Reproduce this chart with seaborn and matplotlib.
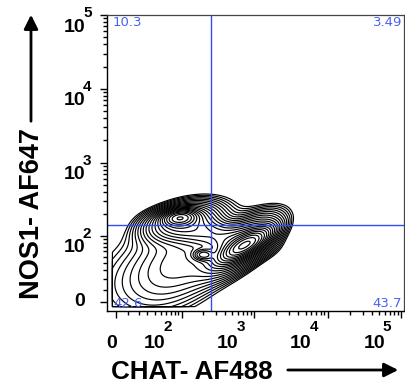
import numpy as np
import matplotlib
matplotlib.use("Agg")
import matplotlib.pyplot as plt
from matplotlib.patches import FancyArrowPatch
import seaborn as sns

# biexponential-like display (asinh), same width on both axes
width = 25.9

# tick values / labels
decades = [2, 3, 4, 5]
minor_values = [m * 10 ** k for k in range(1, 5) for m in range(1, 10) if not (m == 1 and k > 1)]

# gates (fluorescence units)
x_gate = 253
y_gate = 142

# quadrant frequencies (%)
q_upper_left = "10.3"
q_upper_right = "3.49"
q_lower_left = "42.6"
q_lower_right = "43.7"

# populations, in display units (decades)
pop_x = [0.87, 0.88, 1.76, 1.72, 1.19, 1.28, 0.95, 0.30]
pop_y = [1.14, 1.08, 0.77, 0.78, 0.64, 0.92, 0.60, 0.30]
pop_sx = [0.13, 0.28, 0.20, 0.32, 0.08, 0.38, 0.50, 0.55]
pop_sy = [0.06, 0.13, 0.07, 0.14, 0.045, 0.12, 0.30, 0.40]
pop_angle = [5, 15, 30, 35, 0, -10, 35, 15]
pop_weight = [1.0, 0.35, 1.3, 0.45, 0.35, 0.25, 0.12, 0.03]

# lowest on-scale events (display units)
x_floor = -0.055
y_floor = -0.068


def to_disp(v):
    return np.arcsinh(np.asarray(v, dtype=float) / width) / np.log(10)


def density(gx, gy):
    z = np.zeros_like(gx)
    for cx, cy, sx, sy, ang, w in zip(pop_x, pop_y, pop_sx, pop_sy, pop_angle, pop_weight):
        t = np.deg2rad(ang)
        dx = gx - cx
        dy = gy - cy
        a = (dx * np.cos(t) + dy * np.sin(t)) / sx
        b = (-dx * np.sin(t) + dy * np.cos(t)) / sy
        z += w * np.exp(-0.5 * (a ** 2 + b ** 2))
    z[(gx < x_floor) | (gy < y_floor)] = 0
    return z


sns.set_style("ticks")
plt.rcParams["mathtext.fontset"] = "custom"
plt.rcParams["mathtext.bf"] = "Liberation Sans:bold"
plt.rcParams["font.family"] = ["Liberation Sans", "DejaVu Sans"]
for k in ["text.color", "axes.labelcolor", "xtick.color", "ytick.color", "axes.edgecolor"]:
    plt.rcParams[k] = "black"

fig = plt.figure(figsize=(4.06, 3.87), dpi=100)
ax = fig.add_axes([107 / 406, 1 - 311 / 387, 297 / 406, 296 / 387])

xlim = (-0.123, 3.93)
ylim = (-0.122, 3.888)
gx, gy = np.meshgrid(np.linspace(*xlim, 600), np.linspace(*ylim, 600))
z = density(gx, gy)
levels = z.max() * np.geomspace(0.01, 0.92, 21)
ax.contour(gx, gy, z, levels=levels, colors="black", linewidths=0.85)

gate_color = "#2f4ff0"
ax.axvline(to_disp(x_gate), color=gate_color, lw=1)
ax.axhline(to_disp(y_gate), color=gate_color, lw=1)

txt = dict(color="#4a63f0", fontsize=9.5, transform=ax.transAxes, family="DejaVu Sans")
ax.text(0.02, 0.976, q_upper_left, ha="left", va="center", **txt)
ax.text(0.993, 0.976, q_upper_right, ha="right", va="center", **txt)
ax.text(0.02, 0.027, q_lower_left, ha="left", va="center", **txt)
ax.text(0.993, 0.027, q_lower_right, ha="right", va="center", **txt)

ax.set_xlim(*xlim)
ax.set_ylim(*ylim)

# ticks
major = to_disp([0] + [10 ** d for d in decades])
ax.set_xticks(major)
ax.set_yticks(major)
ax.set_xticklabels([])
ax.set_yticklabels([])
ax.set_xticks(to_disp(minor_values), minor=True)
ax.set_yticks(to_disp(minor_values), minor=True)
ax.tick_params(which="major", length=5, width=1, color="black", direction="out")
ax.tick_params(which="minor", length=3, width=1, color="black", direction="out")

# FlowJo style labels: big "10" with a raised exponent
base = dict(fontsize=14, fontweight="bold", textcoords="offset pixels", va="center")
expo = dict(fontsize=11, fontweight="bold", textcoords="offset pixels", va="center", ha="left")
xt = ax.get_xaxis_transform()
yt = ax.get_yaxis_transform()
ax.annotate("0", (major[0], 0), xycoords=xt, xytext=(-4, -32), ha="center", **base)
ax.annotate("0", (0, major[0]), xycoords=yt, xytext=(-27, 0), ha="center", **base)
for d, pos in zip(decades, major[1:]):
    ax.annotate("10", (pos, 0), xycoords=xt, xytext=(-16, -32), ha="right", **base)
    ax.annotate(str(d), (pos, 0), xycoords=xt, xytext=(-18, -16), **expo)
    ax.annotate("10", (0, pos), xycoords=yt, xytext=(-22, -12), ha="right", **base)
    ax.annotate(str(d), (0, pos), xycoords=yt, xytext=(-24, 2), **expo)

for side in ["top", "right"]:
    ax.spines[side].set_visible(True)
    ax.spines[side].set_color("#444444")
    ax.spines[side].set_linewidth(0.9)
for side in ["left", "bottom"]:
    ax.spines[side].set_linewidth(1)

ax.set_xlabel("CHAT- AF488", fontsize=18.7, fontweight="bold", va="center")
ax.xaxis.set_label_coords(0.2845, -0.206)
ax.set_ylabel("NOS1- AF647", fontsize=19.5, fontweight="bold", va="center")
ax.yaxis.set_label_coords(-0.254, 0.329)

arrow = dict(arrowstyle="-|>,head_length=0.6,head_width=0.3", color="black", lw=2, mutation_scale=14)
fig.add_artist(FancyArrowPatch((31 / 406, 1 - 124 / 387), (31 / 406, 1 - 12 / 387),
                               transform=fig.transFigure, **arrow))
fig.add_artist(FancyArrowPatch((285 / 406, 1 - 370 / 387), (401 / 406, 1 - 370 / 387),
                               transform=fig.transFigure, **arrow))

fig.savefig("out.png", dpi=100)
